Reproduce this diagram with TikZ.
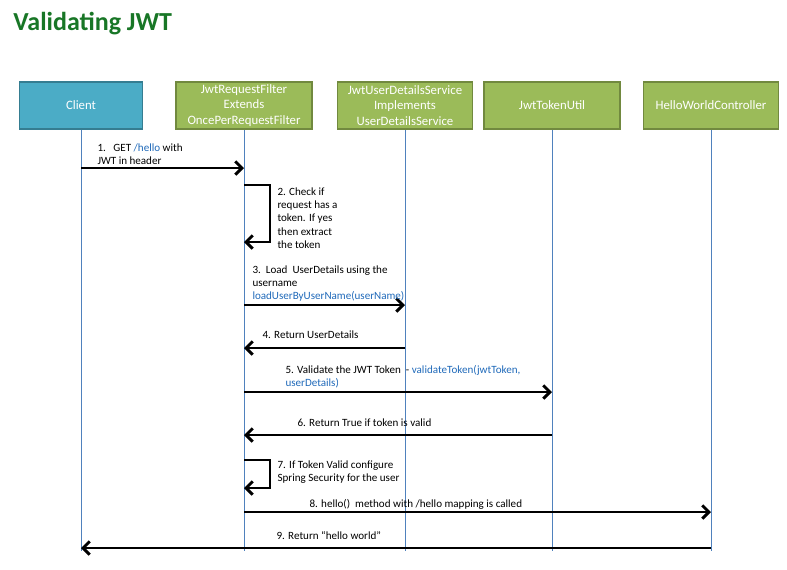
\documentclass[tikz,border=0pt]{standalone}
\usepackage{fontspec}
\setmainfont{Carlito}
\usetikzlibrary{arrows.meta}

\definecolor{clientfill}{RGB}{75,172,198}
\definecolor{clientline}{RGB}{53,125,145}
\definecolor{greenfill}{RGB}{155,187,89}
\definecolor{greenline}{RGB}{113,137,63}
\definecolor{lifeblue}{RGB}{79,129,189}
\definecolor{codeblue}{RGB}{31,105,185}
\definecolor{titlegreen}{RGB}{24,118,38}

\tikzset{
	actor/.style={draw=greenline, fill=greenfill, line width=1.1pt, text=white, align=center,
		minimum height=35.25pt, inner sep=1pt, font=\fontsize{9.6}{11.5}\selectfont},
	lifeline/.style={draw=lifeblue, line width=0.6pt},
	msg/.style={line width=2.2pt, -{Straight Barb[length=5pt,width=10pt]}},
	lbl/.style={font=\fontsize{8.3}{10}\selectfont, align=left, inner sep=0pt},
	code/.style={text=codeblue}}
\tikzset{every picture/.style={line width=0.75pt}}

\begin{document}
\begin{tikzpicture}[x=0.75pt,y=0.75pt,yscale=-1,xscale=1]
	\useasboundingbox (0,0) rectangle (787,569);

	% Title
	\node[anchor=base west, inner sep=0pt, text=titlegreen, font=\fontsize{19.5}{22}\selectfont\bfseries] (title) at (13,30) {Validating JWT};

	%Shape: Rectangle (actors)
	\node[actor, draw=clientline, fill=clientfill, minimum width=92pt] (client) at (81,105.5) {Client};
	\node[actor, minimum width=102pt] (filter) at (244,105.5) {JwtRequestFilter\\Extends\\OncePerRequestFilter};
	\node[actor, minimum width=101pt] (udsvc) at (405,105.5) {JwtUserDetailsService\\Implements\\UserDetailsService};
	\node[actor, minimum width=102pt] (tokutil) at (552,105.5) {JwtTokenUtil};
	\node[actor, minimum width=101pt] (hwctrl) at (711,105.5) {HelloWorldController};

	%Straight Lines (lifelines)
	\foreach \who in {client,filter,udsvc,tokutil,hwctrl}
		\draw[lifeline] (\who.south) -- (\who |- 0,551);

	%Straight Lines [1]
	\draw[msg] (client |- 0,168) -- (filter |- 0,168);
	% Text Node
	\node[lbl, anchor=north west] (m1) at (97,143) {1.\ \ \ GET {\color{codeblue}/hello} with\\JWT in header};

	%Straight Lines [2] self call
	\coordinate (loopa) at (270,185);
	\draw[msg] (filter |- loopa) -- (loopa) |- (filter |- 0,242);
	% Text Node
	\node[lbl, anchor=north west] (m2) at (277,187) {2. Check if\\request has a\\token. If yes\\then extract\\the token};

	%Straight Lines [3]
	\draw[msg] (filter |- 0,305) -- (udsvc |- 0,305);
	% Text Node
	\node[lbl, anchor=north west] (m3) at (252,265) {3.\ \ Load\ \ UserDetails using the\\username\\{\color{codeblue}loadUserByUserName(userName)}};

	%Straight Lines [4]
	\draw[msg] (udsvc |- 0,348) -- (filter |- 0,348);
	% Text Node
	\node[lbl, anchor=north west] (m4) at (262,330) {4. Return UserDetails};

	%Straight Lines [5]
	\draw[msg] (filter |- 0,392) -- (tokutil |- 0,392);
	% Text Node
	\node[lbl, anchor=north west] (m5) at (285,365) {5. Validate the JWT Token\ \ - {\color{codeblue}validateToken(jwtToken,}\\{\color{codeblue}userDetails)}};

	%Straight Lines [6]
	\draw[msg] (tokutil |- 0,435) -- (filter |- 0,435);
	% Text Node
	\node[lbl, anchor=north west] (m6) at (297,418) {6. Return True if token is valid};

	%Straight Lines [7] self call
	\coordinate (loopb) at (270,460);
	\draw[msg] (filter |- loopb) -- (loopb) |- (filter |- 0,488);
	% Text Node
	\node[lbl, anchor=north west] (m7) at (277,460) {7. If Token Valid configure\\Spring Security for the user};

	%Straight Lines [8]
	\draw[msg] (filter |- 0,512) -- (hwctrl |- 0,512);
	% Text Node
	\node[lbl, anchor=north west] (m8) at (309,499) {8. hello()\ \ method with /hello mapping is called};

	%Straight Lines [9]
	\draw[msg] (hwctrl |- 0,548) -- (client |- 0,548);
	% Text Node
	\node[lbl, anchor=north west] (m9) at (276,531) {9. Return “hello world”};

\end{tikzpicture}
\end{document}
